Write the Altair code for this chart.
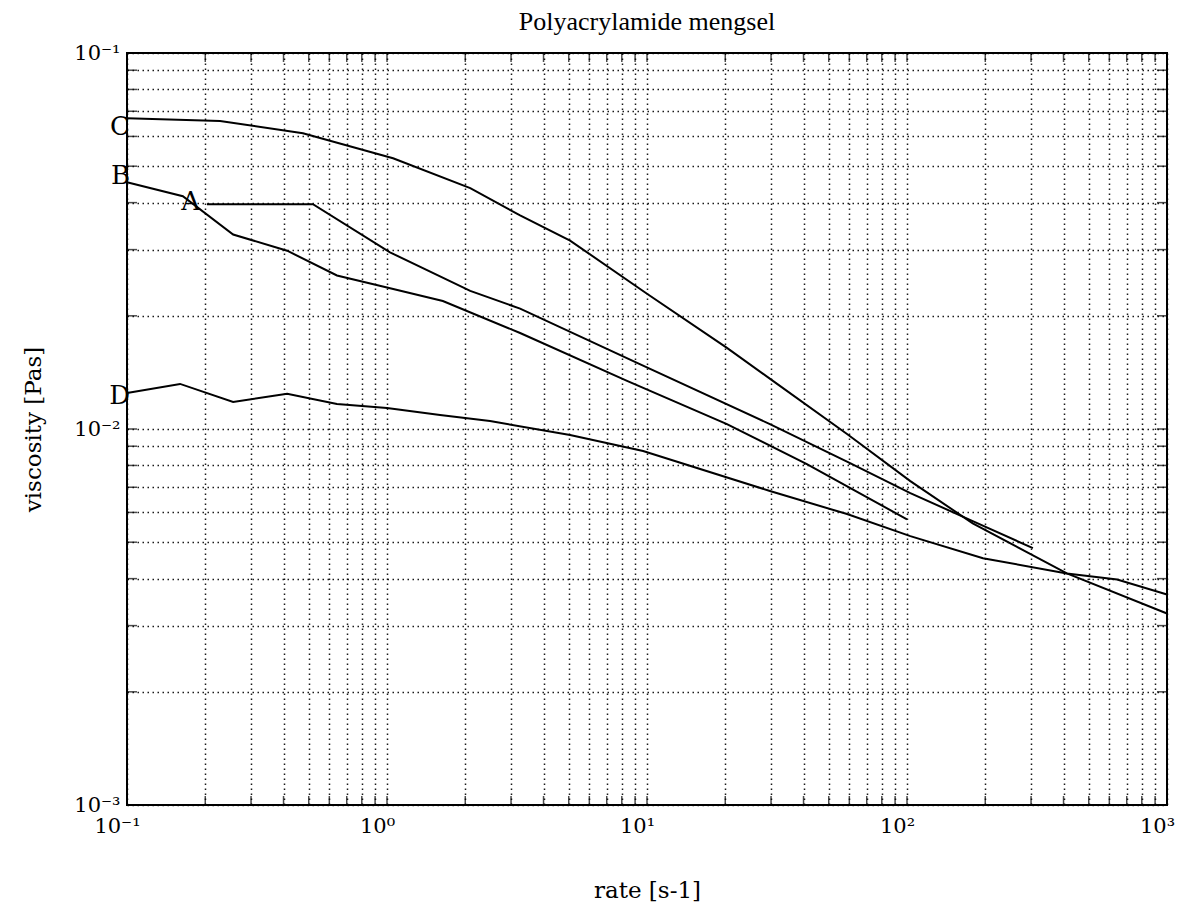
import altair as alt
import pandas as pd

TITLE = "Polyacrylamide mengsel"
X_TITLE = "rate [s-1]"
Y_TITLE = "viscosity [Pas]"

# ---- curves ----
rate_A = [0.203, 0.519, 1.027, 2.09, 3.25, 9.16, 29.7, 60.4, 103, 179, 305]
visc_A = [0.0396, 0.0396, 0.0295, 0.0233, 0.0209, 0.0150, 0.0103, 0.00811, 0.00675, 0.00569, 0.00482]

rate_B = [0.1, 0.164, 0.256, 0.413, 0.642, 1.0, 1.64, 3.25, 8.38, 20.3, 41.2, 100]
visc_B = [0.0453, 0.0416, 0.0329, 0.0298, 0.0256, 0.0238, 0.0219, 0.0180, 0.01343, 0.0103, 0.00807, 0.00575]

rate_C = [0.1, 0.228, 0.475, 1.055, 2.09, 3.25, 5.06, 10.0, 20.3, 30.5, 58.8, 103, 179, 412, 1000]
visc_C = [0.0671, 0.0659, 0.0612, 0.0525, 0.0437, 0.0370, 0.0317, 0.0229, 0.01644, 0.01343, 0.0097, 0.00727, 0.00561, 0.00413, 0.00323]

rate_D = [0.1, 0.160, 0.256, 0.413, 0.642, 1.0, 1.60, 2.49, 5.06, 9.66, 29.7, 58.8, 103, 196, 412, 643, 1000]
visc_D = [0.01247, 0.01318, 0.0118, 0.01240, 0.01166, 0.01138, 0.0109, 0.0105, 0.00964, 0.00874, 0.00684, 0.00594, 0.00519, 0.00453, 0.00413, 0.00398, 0.00363]

# ---- curve labels ----
label_text = ["C", "B", "A", "D"]
label_rate = [0.1027, 0.1027, 0.191, 0.1027]
label_visc = [0.0635, 0.047, 0.0401, 0.01225]

# ---- axes ----
x_decades = [0.1, 1, 10, 100, 1000]
x_decade_labels = ["10⁻¹", "10⁰", "10¹", "10²", "10³"]
y_decades = [0.001, 0.01, 0.1]
y_decade_labels = ["10⁻³", "10⁻²", "10⁻¹"]


def minor_values(decades):
    vals = []
    for d in decades[:-1]:
        for m in range(1, 10):
            vals.append(round(m * d, 10))
    vals.append(decades[-1])
    return vals


def label_expr(values, labels):
    parts = [f"datum.value == {v} ? '{l}'" for v, l in zip(values, labels)]
    return " : ".join(parts) + " : ''"


x_minor = minor_values(x_decades)
y_minor = minor_values(y_decades)

rows = []
for name, xs, ys in [("A", rate_A, visc_A), ("B", rate_B, visc_B),
                     ("C", rate_C, visc_C), ("D", rate_D, visc_D)]:
    for xv, yv in zip(xs, ys):
        rows.append({"series": name, "rate": xv, "visc": yv})
df = pd.DataFrame(rows)

labels_df = pd.DataFrame({"t": label_text, "rate": label_rate, "visc": label_visc})
xt_df = pd.DataFrame({"v": x_minor})
yt_df = pd.DataFrame({"v": y_minor})

SERIF = "DejaVu Serif"

x_scale = alt.Scale(type="log", domain=[x_decades[0], x_decades[-1]], nice=False)
y_scale = alt.Scale(type="log", domain=[y_decades[0], y_decades[-1]], nice=False)

x_axis = alt.Axis(
    values=x_minor, labelExpr=label_expr(x_decades, x_decade_labels),
    grid=True, ticks=False, domain=False, labelOverlap=False, labelFlush=False,
    labelFont=SERIF, labelFontSize=21, labelColor="black", labelPadding=10,
    labelOffset=-10,
    title=X_TITLE, titleFont=SERIF, titleFontSize=23, titleFontWeight="normal",
    titleColor="black", titlePadding=43,
)
y_axis = alt.Axis(
    values=y_minor, labelExpr=label_expr(y_decades, y_decade_labels),
    grid=True, ticks=False, domain=False, labelOverlap=False, labelFlush=False,
    labelFont=SERIF, labelFontSize=21, labelColor="black", labelPadding=7,
    title=Y_TITLE, titleFont=SERIF, titleFontSize=23, titleFontWeight="normal",
    titleColor="black", titlePadding=28,
)

lines = alt.Chart(df).mark_line(color="black", strokeWidth=2).encode(
    x=alt.X("rate:Q", scale=x_scale, axis=x_axis),
    y=alt.Y("visc:Q", scale=y_scale, axis=y_axis),
    detail="series:N",
    order="rate:Q",
)

text = alt.Chart(labels_df).mark_text(
    font=SERIF, fontSize=26, align="right", baseline="middle", color="black"
).encode(
    x=alt.X("rate:Q", scale=x_scale),
    y=alt.Y("visc:Q", scale=y_scale),
    text="t:N",
)

tick_style = dict(color="black", thickness=1.5)
top_ticks = alt.Chart(xt_df).mark_tick(orient="vertical", size=9, yOffset=4.5, **tick_style).encode(
    x=alt.X("v:Q", scale=x_scale), y=alt.datum(y_decades[-1], scale=y_scale))
bottom_ticks = alt.Chart(xt_df).mark_tick(orient="vertical", size=9, yOffset=-4.5, **tick_style).encode(
    x=alt.X("v:Q", scale=x_scale), y=alt.datum(y_decades[0], scale=y_scale))
left_ticks = alt.Chart(yt_df).mark_tick(orient="horizontal", size=10, xOffset=5, **tick_style).encode(
    y=alt.Y("v:Q", scale=y_scale), x=alt.datum(x_decades[0], scale=x_scale))
right_ticks = alt.Chart(yt_df).mark_tick(orient="horizontal", size=10, xOffset=-5, **tick_style).encode(
    y=alt.Y("v:Q", scale=y_scale), x=alt.datum(x_decades[-1], scale=x_scale))

chart = alt.layer(lines, text, top_ticks, bottom_ticks, left_ticks, right_ticks).properties(
    width=1040,
    height=752,
    padding={"left": 119, "top": 45, "right": 10, "bottom": 101},
    autosize=alt.AutoSizeParams(type="none"),
    title=alt.TitleParams(TITLE, font="Liberation Serif", fontSize=26, fontWeight="normal",
                          color="black", anchor="middle", offset=7),
    background="white",
).configure_view(
    stroke="black", strokeWidth=2
).configure_axis(
    gridColor="black", gridDash=[1.5, 3.5], gridWidth=1.5, gridOpacity=0.9
)

chart.save("out.html", embed_options={"renderer": "svg", "actions": False})
